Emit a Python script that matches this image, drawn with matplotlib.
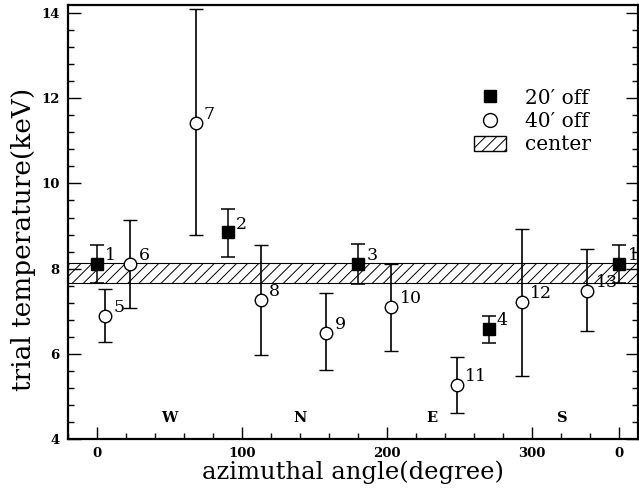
import numpy as np
import matplotlib
matplotlib.use('Agg')
import matplotlib.pyplot as plt
from matplotlib.ticker import MultipleLocator, FixedLocator
from matplotlib.lines import Line2D
from matplotlib.patches import Patch

plt.rcParams['font.family'] = ['DejaVu Serif']
plt.rcParams['hatch.linewidth'] = 0.7

# 20' off pointings (filled squares); pointing 1 repeated at 360
sq_id = ['1', '2', '3', '4', '1']
sq_ang = [0, 90, 180, 270, 360]
sq_t = [8.12, 8.85, 8.12, 6.59, 8.12]
sq_hi = [8.56, 9.41, 8.59, 6.89, 8.56]
sq_lo = [7.67, 8.28, 7.65, 6.26, 7.67]

# 40' off pointings (open circles)
ci_id = ['5', '6', '7', '8', '9', '10', '11', '12', '13']
ci_ang = [5.5, 23, 68, 113, 158, 203, 248, 293, 338]
ci_t = [6.89, 8.12, 11.43, 7.27, 6.49, 7.10, 5.27, 7.22, 7.48]
ci_hi = [7.53, 9.15, 14.09, 8.56, 7.43, 8.12, 5.93, 8.93, 8.45]
ci_lo = [6.28, 7.08, 8.80, 5.98, 5.62, 6.07, 4.61, 5.48, 6.54]

# central region temperature band
center_lo, center_hi = 7.66, 8.13

dirs = ['W', 'N', 'E', 'S']
dir_ang = [50, 140, 231, 321]

fig = plt.figure(figsize=(6.39, 4.88), dpi=100)
ax = fig.add_axes([68/639, 1-439/488, 570/639, 434/488])
ax.set_xlim(-20, 373)
ax.set_ylim(4, 14.19)

ax.fill_between([-20, 373], center_lo, center_hi, facecolor='white',
                edgecolor='black', hatch='///', lw=0.8, zorder=1)

sq_t = np.array(sq_t); ci_t = np.array(ci_t)
ax.errorbar(sq_ang, sq_t, yerr=[sq_t - np.array(sq_lo), np.array(sq_hi) - sq_t],
            fmt='s', ms=8, mfc='black', mec='black', ecolor='black',
            elinewidth=1.1, capsize=5, capthick=1.1, zorder=3, clip_on=False)
ax.errorbar(ci_ang, ci_t, yerr=[ci_t - np.array(ci_lo), np.array(ci_hi) - ci_t],
            fmt='o', ms=9, mfc='white', mec='black', mew=1.0, ecolor='black',
            elinewidth=1.2, capsize=5, capthick=1.2, zorder=3)

for lab, a, t in zip(sq_id + ci_id, sq_ang + ci_ang, list(sq_t) + list(ci_t)):
    ax.annotate(lab, (a, t), xytext=(6, 6), textcoords='offset points',
                ha='left', va='center', fontsize=12.5, annotation_clip=False)

for d, a in zip(dirs, dir_ang):
    ax.text(a, 4.5, d, ha='center', va='center', fontsize=10.5, fontweight='bold')

ax.xaxis.set_major_locator(FixedLocator([0, 100, 200, 300, 360]))
ax.set_xticklabels(['0', '100', '200', '300', '0'])
ax.xaxis.set_minor_locator(MultipleLocator(20))
ax.yaxis.set_major_locator(MultipleLocator(2))
ax.yaxis.set_minor_locator(MultipleLocator(0.4))
ax.tick_params(which='both', direction='in', top=False, right=True,
               labelsize=9.5, width=1.0)
ax.tick_params(which='major', length=9, pad=6)
ax.tick_params(which='minor', length=4)
for lbl in ax.get_xticklabels() + ax.get_yticklabels():
    lbl.set_fontweight('bold')
for s in ax.spines.values():
    s.set_linewidth(1.6)

ax.set_xlabel('azimuthal angle(degree)', fontsize=17.5, labelpad=0)
ax.set_ylabel('trial temperature(keV)', fontsize=19, labelpad=4)
ax.yaxis.label.set_y(0.46)

handles = [Line2D([], [], ls='none', marker='s', ms=9, mfc='black', mec='black'),
           Line2D([], [], ls='none', marker='o', ms=10, mfc='white', mec='black'),
           Patch(facecolor='white', edgecolor='black', hatch='///', lw=1.0)]
ax.legend(handles, ["20\u2032 off", "40\u2032 off", 'center'], frameon=False,
          loc='upper left', bbox_to_anchor=(0.698, 0.826), fontsize=14.5,
          handlelength=1.6, handleheight=0.8, handletextpad=0.94,
          labelspacing=0.22, borderaxespad=0)

fig.savefig('out.png', dpi=100)
